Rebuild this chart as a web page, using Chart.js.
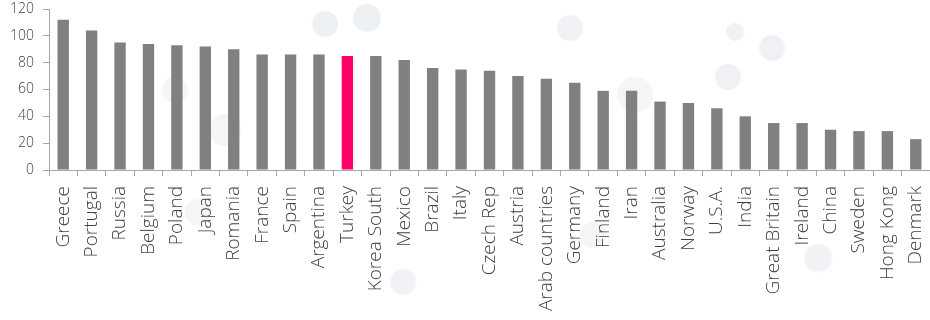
<!DOCTYPE html>
<html>
<head>
<meta charset="utf-8">
<script src="https://cdn.jsdelivr.net/npm/chart.js@4/dist/chart.umd.min.js"></script>
<style>
  html, body { margin: 0; padding: 0; background: #fff; }
  /* faint network-dot backdrop of the original slide */
  #wrap {
    width: 930px; height: 320px; position: relative;
    background:
      radial-gradient(circle at 325px 24px, #eef1f4 12px, transparent 14px),
      radial-gradient(circle at 367px 18px, #eef1f4 13px, transparent 15px),
      radial-gradient(circle at 570px 28px, #eff1f4 12px, transparent 14px),
      radial-gradient(circle at 175px 90px, #f3f5f7 12px, transparent 14px),
      radial-gradient(circle at 225px 130px, #f3f5f7 15px, transparent 17px),
      radial-gradient(circle at 772px 48px, #eff1f4 12px, transparent 14px),
      radial-gradient(circle at 728px 77px, #eff1f4 12px, transparent 14px),
      radial-gradient(circle at 635px 95px, #f3f5f7 17px, transparent 19px),
      radial-gradient(circle at 735px 32px, #eff1f4 8px, transparent 10px),
      radial-gradient(circle at 198px 212px, #f3f5f7 12px, transparent 14px),
      radial-gradient(circle at 403px 282px, #f0f2f5 12px, transparent 14px),
      radial-gradient(circle at 818px 258px, #f0f2f5 13px, transparent 15px),
      radial-gradient(circle at 593px 235px, #f3f5f7 12px, transparent 14px),
      #fff;
  }
</style>
</head>
<body>
<div id="wrap"><canvas id="chart"></canvas></div>
<script>
// --- Data ---------------------------------------------------------------

const countries = [
  "Greece", "Portugal", "Russia", "Belgium", "Poland", "Japan", "Romania",
  "France", "Spain", "Argentina", "Turkey", "Korea South", "Mexico", "Brazil",
  "Italy", "Czech Rep", "Austria", "Arab countries", "Germany", "Finland",
  "Iran", "Australia", "Norway", "U.S.A.", "India", "Great Britain",
  "Ireland", "China", "Sweden", "Hong Kong", "Denmark",
];
const scores = [
  112, 104, 95, 94, 93, 92, 90, 86, 86, 86, 85, 85, 82, 76, 75, 74, 70, 68,
  65, 59, 59, 51, 50, 46, 40, 35, 35, 30, 29, 29, 23,
];
const highlight = "Turkey";
const yTicks = [0, 20, 40, 60, 80, 100, 120];

// --- Chart --------------------------------------------------------------

const axisColor = "#a6a6a6";
const textColor = "#404040";
const font = { family: "'Open Sans', 'Noto Sans', sans-serif", size: 14, weight: 300 };

new Chart(document.querySelector("#chart"), {
  type: "bar",
  data: {
    labels: countries,
    datasets: [{
      data: scores,
      backgroundColor: countries.map((c) => (c === highlight ? "#ff0066" : "#808080")),
      categoryPercentage: 1,
      barPercentage: 0.4,
    }],
  },
  options: {
    responsive: true,
    maintainAspectRatio: false,
    animation: false,
    layout: { padding: { top: 9, right: 0, left: 0, bottom: 0 } },
    plugins: { legend: { display: false }, tooltip: { enabled: false } },
    scales: {
      x: {
        grid: { drawOnChartArea: false, drawTicks: true, tickLength: 6, color: axisColor },
        border: { color: axisColor },
        ticks: {
          color: textColor,
          font: { ...font, size: 19 },
          minRotation: 90,
          maxRotation: 90,
          autoSkip: false,
          padding: 10,
        },
        afterFit: (s) => { s.height = 150; s.paddingLeft = 0; s.paddingRight = 0; },
      },
      y: {
        min: 0,
        max: 120,
        afterBuildTicks: (s) => { s.ticks = yTicks.map((v) => ({ value: v })); },
        grid: { drawOnChartArea: false, drawTicks: true, tickLength: 6, color: axisColor },
        border: { color: axisColor },
        ticks: { color: textColor, font, padding: 9 },
        afterFit: (s) => { s.width = 49; s.paddingTop = 0; s.paddingBottom = 0; },
      },
    },
  },
});
</script>
</body>
</html>
